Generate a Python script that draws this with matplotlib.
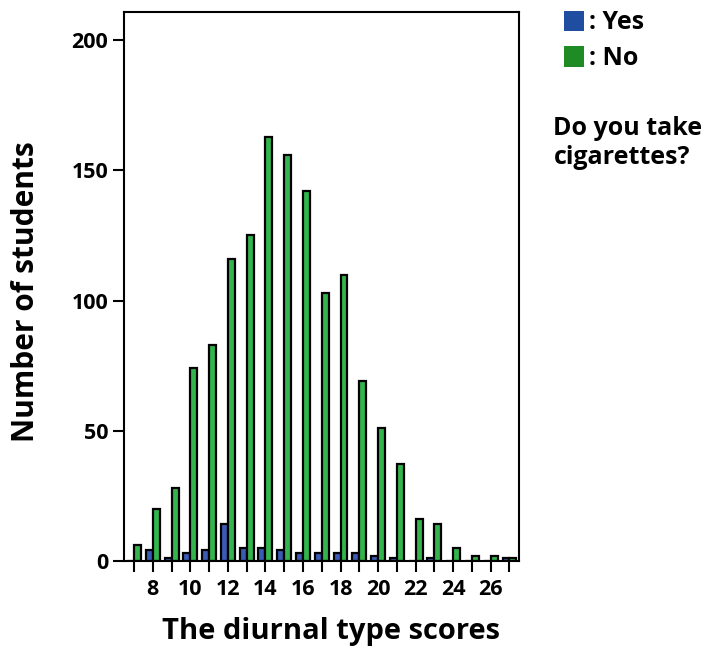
import numpy as np
import matplotlib
matplotlib.use('Agg')
from matplotlib import pyplot as plt
from matplotlib.patches import Rectangle

# diurnal type scores and number of students per group
scores      = np.arange(7, 28)
smokers_yes = [0, 4, 1, 3, 4, 14, 5, 5, 4, 3, 3, 3, 3, 2, 1, 0, 1, 0, 0, 0, 1]
smokers_no  = [6, 20, 28, 74, 83, 116, 125, 163, 156, 142, 103, 110, 69, 51,
               37, 16, 14, 5, 2, 2, 1]

bar_w = 0.37

fig = plt.figure(figsize=(7.05, 6.52), dpi=100)
ax  = fig.add_axes([0.176, 0.140, 0.560, 0.842])

ax.bar(scores, smokers_yes, width=-bar_w, align='edge',
       color='#3b5cb5', edgecolor='black', linewidth=1.6)
ax.bar(scores, smokers_no, width=bar_w, align='edge',
       color='#33b44c', edgecolor='black', linewidth=1.6)

ax.set_xlim(6.47, 27.5)
ax.set_ylim(0, 211)
ax.set_xticks(scores, minor=True)
ax.set_xticks(np.arange(8, 27, 2))
ax.set_yticks([0, 50, 100, 150, 200])
ax.tick_params(axis='both', which='both', direction='out', length=8,
               width=1.5, labelsize=15.5)
ax.tick_params(axis='x', pad=5)
for lbl in ax.get_xticklabels() + ax.get_yticklabels():
    lbl.set_fontweight('bold')
    lbl.set_family('Open Sans')
for sp in ax.spines.values():
    sp.set_linewidth(1.5)

ax.set_xlabel('The diurnal type scores', fontsize=21, fontweight='bold',
              family='Open Sans')
ax.xaxis.set_label_coords(0.524, -0.103)
ax.set_ylabel('Number of students', fontsize=21.5, fontweight='bold',
              family='Open Sans')
ax.yaxis.set_label_coords(-0.21, 0.49)

# legend made of squares and text
fig.patches.append(Rectangle((0.800, 0.952), 0.029, 0.031, transform=fig.transFigure,
                             facecolor='#1f4ea0', edgecolor='none'))
fig.patches.append(Rectangle((0.800, 0.898), 0.029, 0.031, transform=fig.transFigure,
                             facecolor='#1f8b24', edgecolor='none'))
fig.text(0.836, 0.966, ': Yes', fontsize=18, fontweight='bold',
         family='Open Sans', va='center')
fig.text(0.836, 0.911, ': No', fontsize=18, fontweight='bold',
         family='Open Sans', va='center')
fig.text(0.785, 0.822, 'Do you take\ncigarettes?', fontsize=18,
         fontweight='bold', family='Open Sans', va='top', linespacing=1.2)

fig.savefig('out.png', dpi=100)
